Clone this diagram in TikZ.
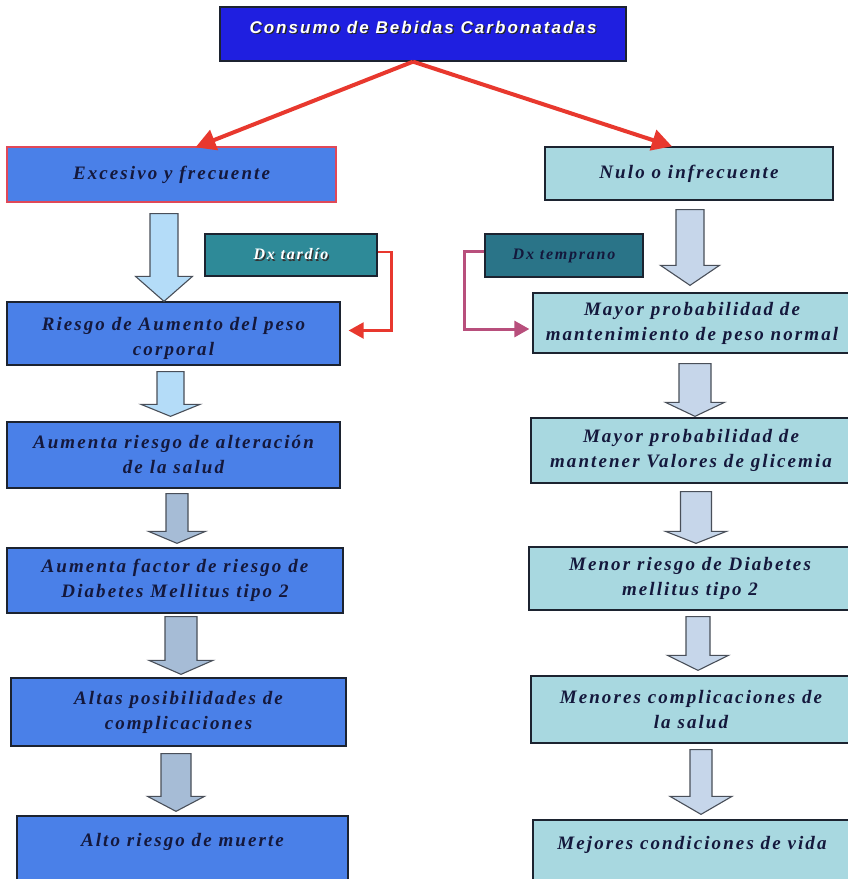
\documentclass[tikz,border=0pt]{standalone}
\usepackage{fontspec}
\usetikzlibrary{arrows.meta,calc}
\newfontfamily\boxserif{Liberation Serif}[LetterSpace=11]
\newfontfamily\topsans{Liberation Sans}[LetterSpace=12]
\definecolor{navy}{HTML}{14183C}
\definecolor{topblue}{HTML}{1F1FE0}
\definecolor{leftblue}{HTML}{4A80E8}
\definecolor{rightcyan}{HTML}{A8D8E0}
\definecolor{tealA}{HTML}{2E8A98}
\definecolor{tealB}{HTML}{2A7488}
\definecolor{boxline}{HTML}{1C2330}
\definecolor{excline}{HTML}{E04858}
\definecolor{arrlight}{HTML}{B4DCF8}
\definecolor{arrgrey}{HTML}{A6BCD6}
\definecolor{arrright}{HTML}{C6D6EA}
\definecolor{redline}{HTML}{E8382E}
\definecolor{mauve}{HTML}{B84F7C}
\newcommand\shtxt[2]{\rlap{\kern1.3pt\raisebox{-1.3pt}{\textcolor{#2}{#1}}}#1}
% #1 fill, #2 from node, #3 to node, #4 centre x, #5 half shaft, #6 half head, #7 top gap, #8 head length, #9 tip gap
\newcommand\blkarrow[9]{%
  \draw[blockarr,fill=#1]
    ([yshift=-#7pt]#4-#5,0 |- #2.south) -- ([yshift=-#7pt]#4+#5,0 |- #2.south)
    -- ([yshift=#8pt+#9pt]#4+#5,0 |- #3.north) -- ([yshift=#8pt+#9pt]#4+#6,0 |- #3.north)
    -- ([yshift=#9pt]#4,0 |- #3.north)
    -- ([yshift=#8pt+#9pt]#4-#6,0 |- #3.north) -- ([yshift=#8pt+#9pt]#4-#5,0 |- #3.north) -- cycle;}
\begin{document}
\begin{tikzpicture}[x=1pt,y=-1pt,
  sz/.style 2 args={minimum width=#1pt, minimum height=#2pt},
  box/.style={draw=boxline, line width=1.3pt, inner sep=0pt, align=center, text=navy,
    font=\boxserif\bfseries\itshape\fontsize{19}{25}\selectfont},
  leftbox/.style={box, fill=leftblue},
  rightbox/.style={box, fill=rightcyan},
  lbl/.style={inner sep=0pt, align=center, text=navy, font=\boxserif\bfseries\itshape\fontsize{19}{25}\selectfont},
  dxbox/.style={draw=boxline, line width=1.3pt, inner sep=0pt, font=\boxserif\bfseries\itshape\fontsize{16}{18}\selectfont},
  blockarr/.style={draw=boxline!80, line width=1.1pt, line join=miter},
  redarrow/.style={draw=redline, line width=4pt, -{Triangle[length=20pt,width=21pt]}},
  dxarrow/.style={line width=2.4pt, -{Triangle[length=15pt,width=16pt]}}
]
\useasboundingbox (0,0) rectangle (848,879);
\fill[white] (0,0) rectangle (848,879);
\begin{scope}
\clip (0,0) rectangle (848,879);
% top
\node[draw=boxline, line width=1.3pt, fill=topblue, inner sep=0pt, text=white, text height=13pt, text depth=14pt,
  font=\topsans\bfseries\itshape\fontsize{17}{20}\selectfont, sz={406}{54}] (top) at (423,34)
  {\shtxt{Consumo de Bebidas Carbonatadas}{black!85}};
% left column
\node[leftbox, draw=excline, sz={329}{55}] (exc) at (171.5,174.5) {Excesivo y frecuente};
\node[leftbox, sz={333}{63}] (riesgo) at (173.5,333.5) {};
\node[lbl] (riesgoT) at ($(riesgo.center)+(0,5)$) {Riesgo de Aumento del peso\\corporal};
\node[leftbox, sz={333}{66}] (alter) at (173.5,455) {Aumenta riesgo de alteración\\de la salud};
\node[leftbox, sz={336}{65}] (factor) at (175,580.5) {Aumenta factor de riesgo de\\Diabetes Mellitus tipo 2};
\node[leftbox, sz={335}{68}] (altas) at (178.5,712) {Altas posibilidades de\\complicaciones};
\node[leftbox, text height=14pt, text depth=28pt, sz={331}{74}] (muerte) at (182.5,853) {Alto riesgo de muerte};
% right column
\node[rightbox, sz={288}{53}] (nulo) at (689,173.5) {Nulo o infrecuente};
\node[rightbox, sz={318}{60}] (mayor) at (692,323) {Mayor probabilidad de\\mantenimiento de peso normal};
\node[rightbox, sz={320}{65}] (glic) at (691,450.5) {Mayor probabilidad de\\mantener Valores de glicemia};
\node[rightbox, sz={322}{63}] (menor) at (690,578.5) {Menor riesgo de Diabetes\\mellitus tipo 2};
\node[rightbox, sz={320}{67}] (menores) at (691,709.5) {Menores complicaciones de\\la salud};
\node[rightbox, text height=14pt, text depth=26pt, sz={318}{70}] (mejores) at (692,855) {Mejores condiciones de vida};
% Dx boxes
\node[dxbox, fill=tealA, text=white, sz={172}{42}] (tardio) at (291,255) {\shtxt{Dx tardío}{black!80}};
\node[dxbox, fill=tealB, text=navy, sz={158}{43}] (temprano) at (564,255.5) {Dx temprano};
\end{scope}
% block arrows
\blkarrow{arrlight}{exc}{riesgo}{164}{14}{28.5}{11}{25}{0}
\blkarrow{arrlight}{riesgo}{alter}{170.5}{13.5}{29.5}{6}{12}{5}
\blkarrow{arrgrey}{alter}{factor}{177}{11}{28.5}{5}{12}{4}
\blkarrow{arrgrey}{factor}{altas}{181}{16}{32}{3}{14}{3}
\blkarrow{arrgrey}{altas}{muerte}{176}{15}{28.5}{7}{15}{4}
\blkarrow{arrright}{nulo}{mayor}{690}{14}{29.5}{9}{20}{7}
\blkarrow{arrright}{mayor}{glic}{695}{16}{29.5}{10}{14}{1}
\blkarrow{arrright}{glic}{menor}{696}{15.5}{30.5}{8}{12}{3}
\blkarrow{arrright}{menor}{menores}{698}{12}{30.5}{6}{15}{5}
\blkarrow{arrright}{menores}{mejores}{701}{11}{31}{6}{18}{5}
% red arrows
\draw[redarrow] ($(top.south)+(-10,0)$) -- ($(exc.north)+(24,1)$);
\draw[redarrow] ($(top.south)+(-10,0)$) -- ($(nulo.north)+(-17,0)$);
% Dx connectors
\draw[dxarrow, draw=redline] ($(tardio.east)+(0,-3)$) -- ++(14,0) |- ($(riesgo.east)+(8,-3)$);
\draw[dxarrow, draw=mauve, line width=3pt] ($(temprano.west)+(0,-4)$) -- ++(-20,0) |- ($(mayor.west)+(-3,6)$);
\end{tikzpicture}
\end{document}
